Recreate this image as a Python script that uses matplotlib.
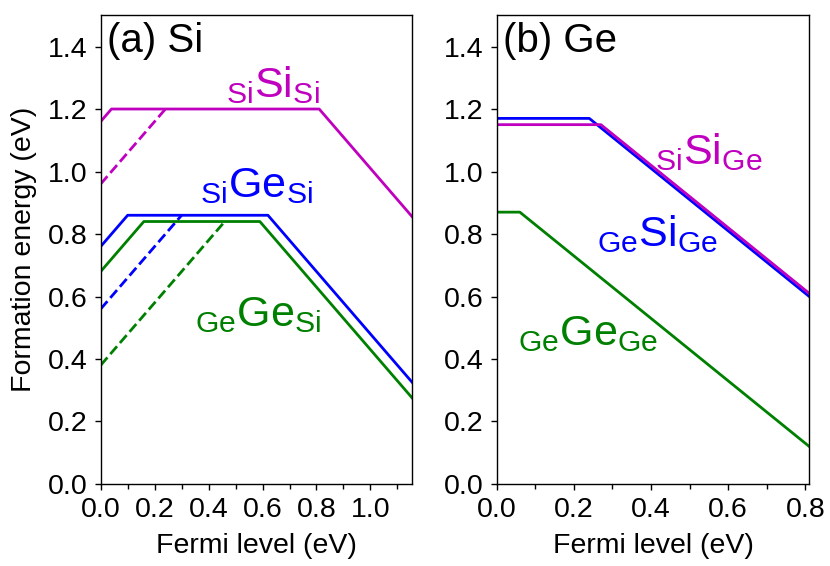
import numpy as np
import matplotlib
matplotlib.use("Agg")
from matplotlib import pyplot as plt

plt.rcParams['font.family'] = ['Liberation Sans', 'DejaVu Sans']
plt.rcParams['mathtext.fontset'] = 'custom'
plt.rcParams['mathtext.rm'] = 'Liberation Sans'

# (a) Si  -- polylines: fermi level -> formation energy
si_gap = 1.155
si_SiSi_x = [0.0, 0.04, 0.81, 1.155]
si_SiSi_y = [1.16, 1.20, 1.20, 0.855]
si_SiSi_dash_x = [0.0, 0.24]
si_SiSi_dash_y = [0.96, 1.20]
si_GeSi_x = [0.0, 0.10, 0.62, 1.155]
si_GeSi_y = [0.76, 0.86, 0.86, 0.325]
si_GeSi_dash_x = [0.0, 0.30]
si_GeSi_dash_y = [0.56, 0.86]
si_GeGe_x = [0.0, 0.16, 0.59, 1.155]
si_GeGe_y = [0.68, 0.84, 0.84, 0.275]
si_GeGe_dash_x = [0.0, 0.46]
si_GeGe_dash_y = [0.38, 0.84]

# (b) Ge
ge_gap = 0.81
ge_SiSi_x = [0.0, 0.27, 0.81]
ge_SiSi_y = [1.15, 1.15, 0.61]
ge_GeSi_x = [0.0, 0.24, 0.81]
ge_GeSi_y = [1.17, 1.17, 0.60]
ge_GeGe_x = [0.0, 0.06, 0.81]
ge_GeGe_y = [0.87, 0.87, 0.12]

FS = 20.5
LW = 2.0

def label(ax, x, y, pre, main, post, color):
    s = r'$\mathregular{{}_{%s}%s_{%s}}$' % (pre, main, post)
    ax.text(x, y, s, color=color, fontsize=31, ha='center', va='baseline')

def style(ax, xmax, xmajor):
    ax.set_xlim(0, xmax)
    ax.set_ylim(0, 1.5)
    ax.set_xticks(xmajor)
    ax.set_xticks(np.arange(0, xmax, 0.1), minor=True)
    ax.set_yticks(np.arange(0, 1.41, 0.2))
    ax.tick_params(labelsize=FS, length=4.5, width=1.0, pad=5)
    ax.tick_params(which='minor', length=3.5, width=1.0)
    ax.set_xlabel('Fermi level (eV)', fontsize=FS, labelpad=7)
    for sp in ax.spines.values():
        sp.set_linewidth(1.0)

fig = plt.figure(figsize=(8.3, 5.66), dpi=100)
ax1 = fig.add_axes([0.1213, 0.1449, 0.3754, 0.8281])
ax2 = fig.add_axes([0.5984, 0.1449, 0.3766, 0.8281])

# panel a
ax1.plot(si_SiSi_x, si_SiSi_y, color='m', lw=LW)
ax1.plot(si_SiSi_dash_x, si_SiSi_dash_y, color='m', lw=LW, ls='--')
ax1.plot(si_GeSi_x, si_GeSi_y, color='b', lw=LW)
ax1.plot(si_GeSi_dash_x, si_GeSi_dash_y, color='b', lw=LW, ls='--')
ax1.plot(si_GeGe_x, si_GeGe_y, color='g', lw=LW)
ax1.plot(si_GeGe_dash_x, si_GeGe_dash_y, color='g', lw=LW, ls='--')
style(ax1, si_gap, [0.0, 0.2, 0.4, 0.6, 0.8, 1.0])
ax1.set_ylabel('Formation energy (eV)', fontsize=FS, labelpad=8)
ax1.text(0.02, 0.985, '(a) Si', transform=ax1.transAxes, fontsize=29, ha='left', va='top')
label(ax1, 0.638, 1.238, 'Si', 'Si', 'Si', 'm')
label(ax1, 0.579, 0.918, 'Si', 'Ge', 'Si', 'b')
label(ax1, 0.583, 0.506, 'Ge', 'Ge', 'Si', 'g')

# panel b
ax2.plot(ge_GeSi_x, ge_GeSi_y, color='b', lw=LW)
ax2.plot(ge_SiSi_x, ge_SiSi_y, color='m', lw=LW)
ax2.plot(ge_GeGe_x, ge_GeGe_y, color='g', lw=LW)
style(ax2, ge_gap, [0.0, 0.2, 0.4, 0.6, 0.8])
ax2.text(0.02, 0.985, '(b) Ge', transform=ax2.transAxes, fontsize=29, ha='left', va='top')
label(ax2, 0.55, 1.024, 'Si', 'Si', 'Ge', 'm')
label(ax2, 0.418, 0.762, 'Ge', 'Si', 'Ge', 'b')
label(ax2, 0.237, 0.445, 'Ge', 'Ge', 'Ge', 'g')

fig.savefig('out.png', dpi=100)
